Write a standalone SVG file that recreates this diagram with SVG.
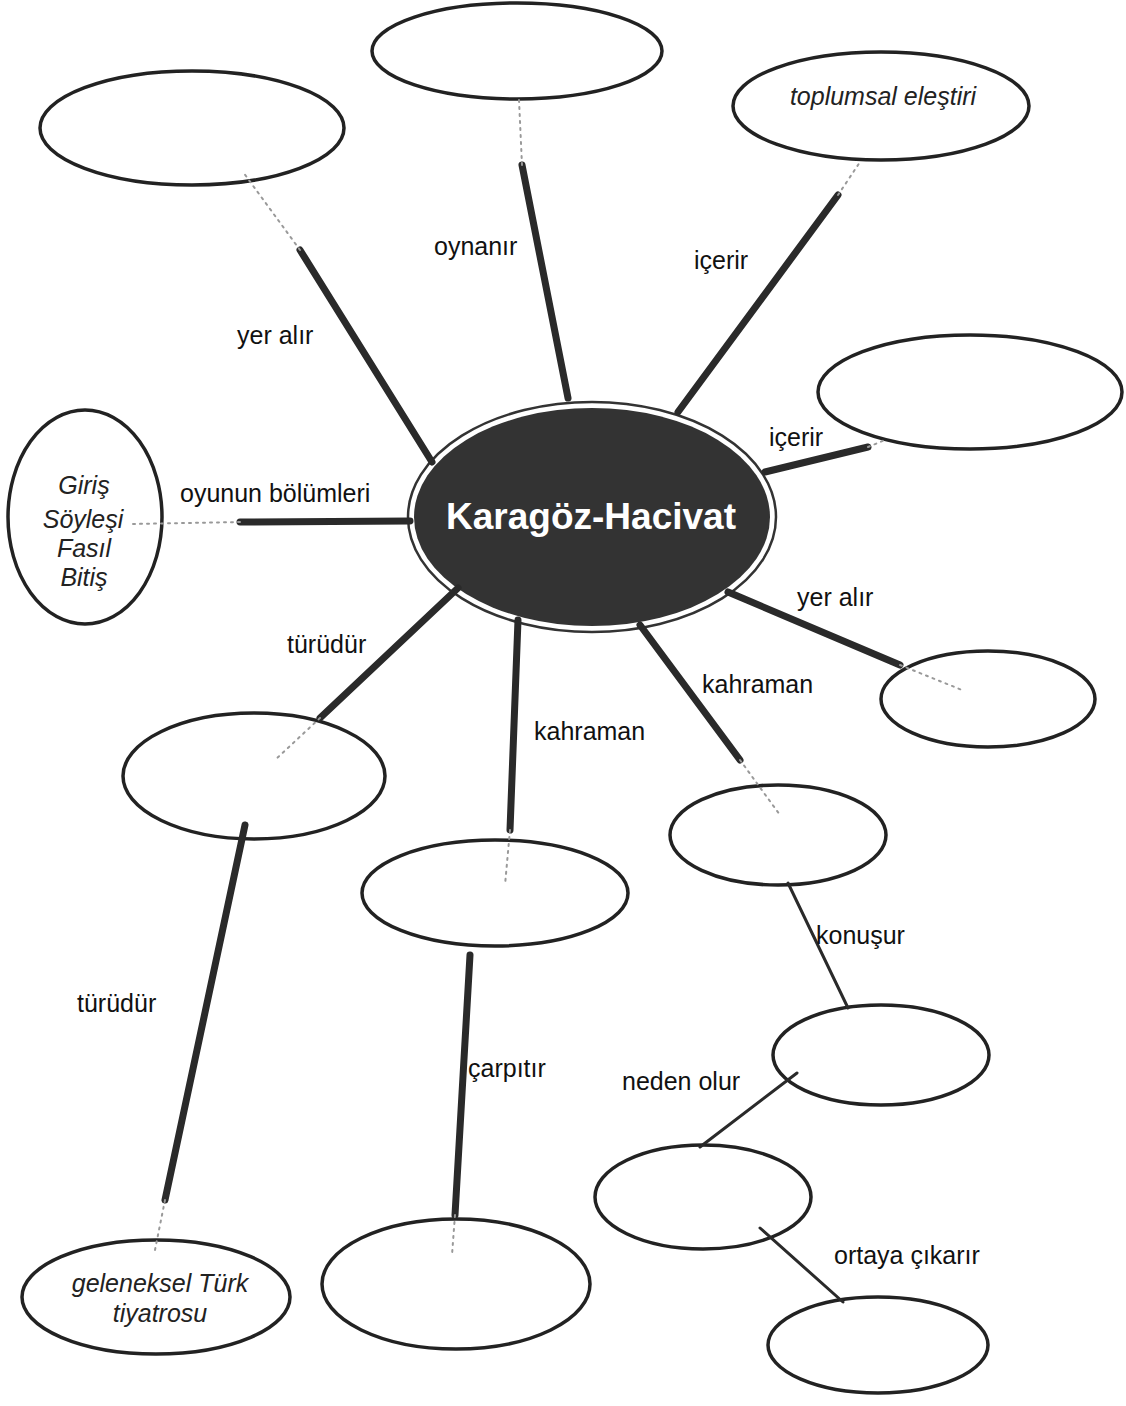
<svg xmlns="http://www.w3.org/2000/svg" width="1126" height="1406" viewBox="0 0 1126 1406">
<style>
.node{fill:#fff;stroke:#222;stroke-width:3.5}
.edge{stroke:#2a2a2a;stroke-width:7;stroke-linecap:round;fill:none}
.thin{stroke:#2a2a2a;stroke-width:3;stroke-linecap:round;fill:none}
.fade{stroke:#999;stroke-width:2;stroke-dasharray:2 5;stroke-linecap:round;fill:none}
.lbl{font-family:"Liberation Sans",Arial,sans-serif;font-size:25px;fill:#111}
.it{font-family:"Liberation Sans",Arial,sans-serif;font-size:25px;font-style:italic;fill:#222;text-anchor:middle}
.main{font-family:"Liberation Sans",Arial,sans-serif;font-size:37px;font-weight:bold;fill:#fff;text-anchor:middle}
</style>
<rect width="1126" height="1406" fill="#fff"/>
<g id="n-center">
<ellipse cx="592" cy="517" rx="184" ry="115" fill="none" stroke="#333" stroke-width="2.5"/>
<ellipse cx="592" cy="517" rx="178" ry="109" fill="#333"/>
<text class="main" x="591" y="529">Karagöz-Hacivat</text>
</g>
<g id="n-top-left"><ellipse class="node" cx="192" cy="128" rx="152" ry="57"/></g>
<g id="n-top-center"><ellipse class="node" cx="517" cy="51" rx="145" ry="48"/></g>
<g id="n-top-right"><ellipse class="node" cx="881" cy="106" rx="148" ry="54"/><text class="it" x="883" y="105">toplumsal eleştiri</text></g>
<g id="n-right"><ellipse class="node" cx="970" cy="392" rx="152" ry="57"/></g>
<g id="n-left"><ellipse class="node" cx="85" cy="517" rx="77" ry="107"/>
<text class="it" x="84" y="494">Giriş</text><text class="it" x="83" y="528">Söyleşi</text><text class="it" x="84" y="557">Fasıl</text><text class="it" x="84" y="586">Bitiş</text></g>
<g id="n-right-low"><ellipse class="node" cx="988" cy="699" rx="107" ry="48"/></g>
<g id="n-left-mid"><ellipse class="node" cx="254" cy="776" rx="131" ry="63"/></g>
<g id="n-kahraman-r"><ellipse class="node" cx="778" cy="835" rx="108" ry="50"/></g>
<g id="n-kahraman-c"><ellipse class="node" cx="495" cy="893" rx="133" ry="53"/></g>
<g id="n-konusur"><ellipse class="node" cx="881" cy="1055" rx="108" ry="50"/></g>
<g id="n-neden"><ellipse class="node" cx="703" cy="1197" rx="108" ry="52"/></g>
<g id="n-ortaya"><ellipse class="node" cx="878" cy="1345" rx="110" ry="48"/></g>
<g id="n-geleneksel"><ellipse class="node" cx="156" cy="1297" rx="134" ry="57"/>
<text class="it" x="160" y="1292">geleneksel Türk</text><text class="it" x="160" y="1322">tiyatrosu</text></g>
<g id="n-carpitir"><ellipse class="node" cx="456" cy="1284" rx="134" ry="65"/></g>
<g id="connectors">
<line class="edge" x1="432" y1="462" x2="300" y2="250"/><line class="fade" x1="300" y1="250" x2="243" y2="172"/>
<line class="edge" x1="568" y1="398" x2="522" y2="165"/><line class="fade" x1="522" y1="165" x2="519" y2="100"/>
<line class="edge" x1="678" y1="412" x2="838" y2="195"/><line class="fade" x1="838" y1="195" x2="860" y2="162"/>
<line class="edge" x1="765" y1="472" x2="868" y2="447"/><line class="fade" x1="868" y1="447" x2="885" y2="440"/>
<line class="edge" x1="410" y1="521" x2="240" y2="522"/><line class="fade" x1="240" y1="522" x2="133" y2="524"/>
<line class="edge" x1="728" y1="592" x2="900" y2="665"/><line class="fade" x1="900" y1="665" x2="962" y2="690"/>
<line class="edge" x1="640" y1="625" x2="740" y2="760"/><line class="fade" x1="740" y1="760" x2="780" y2="815"/>
<line class="edge" x1="518" y1="620" x2="510" y2="830"/><line class="fade" x1="510" y1="830" x2="505" y2="885"/>
<line class="edge" x1="458" y1="588" x2="320" y2="718"/><line class="fade" x1="320" y1="718" x2="275" y2="760"/>
<line class="edge" x1="245" y1="825" x2="165" y2="1200"/><line class="fade" x1="165" y1="1200" x2="155" y2="1250"/>
<line class="edge" x1="470" y1="955" x2="455" y2="1215"/><line class="fade" x1="455" y1="1215" x2="452" y2="1255"/>
<line class="thin" x1="788" y1="883" x2="848" y2="1008"/>
<line class="thin" x1="797" y1="1073" x2="700" y2="1147"/>
<line class="thin" x1="760" y1="1228" x2="843" y2="1302"/>
</g>
<g id="labels">
<text class="lbl" x="237" y="344">yer alır</text>
<text class="lbl" x="434" y="255">oynanır</text>
<text class="lbl" x="694" y="269">içerir</text>
<text class="lbl" x="769" y="446">içerir</text>
<text class="lbl" x="180" y="502">oyunun bölümleri</text>
<text class="lbl" x="797" y="606">yer alır</text>
<text class="lbl" x="702" y="693">kahraman</text>
<text class="lbl" x="534" y="740">kahraman</text>
<text class="lbl" x="287" y="653">türüdür</text>
<text class="lbl" x="77" y="1012">türüdür</text>
<text class="lbl" x="468" y="1077">çarpıtır</text>
<text class="lbl" x="816" y="944">konuşur</text>
<text class="lbl" x="622" y="1090">neden olur</text>
<text class="lbl" x="834" y="1264">ortaya çıkarır</text>
</g>
</svg>
